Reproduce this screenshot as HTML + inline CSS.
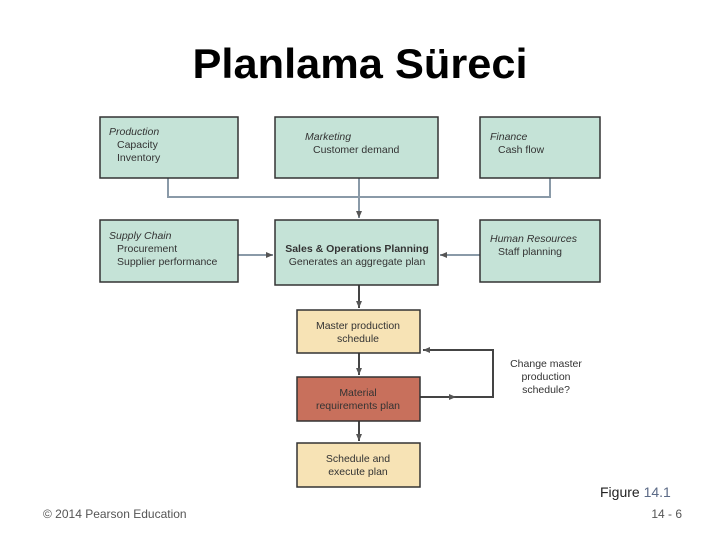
<!DOCTYPE html>
<html><head><meta charset="utf-8"><style>
html,body{margin:0;padding:0;background:#fff;}
svg{display:block;font-family:"Liberation Sans",Arial,sans-serif;}
</style></head><body>
<svg width="720" height="540" viewBox="0 0 720 540" xmlns="http://www.w3.org/2000/svg">
<defs>
<marker id="a" markerWidth="8" markerHeight="8" refX="7" refY="4" orient="auto" markerUnits="userSpaceOnUse">
<path d="M0,1 L7,4 L0,7 Z" fill="#555"/></marker>
</defs>
<text x="360" y="78" text-anchor="middle" font-size="42" font-weight="bold" textLength="335" lengthAdjust="spacingAndGlyphs">Planlama Süreci</text>

<g stroke="#8a9aa8" stroke-width="2" fill="none">
<polyline points="168,178 168,197 550,197 550,178"/>
<line x1="359" y1="178" x2="359" y2="218" marker-end="url(#a)"/>
<line x1="238" y1="255" x2="273" y2="255" marker-end="url(#a)"/>
<line x1="480" y1="255" x2="440" y2="255" marker-end="url(#a)"/>
</g>
<g stroke="#444" stroke-width="2" fill="none">
<line x1="359" y1="285" x2="359" y2="308" marker-end="url(#a)"/>
<line x1="359" y1="353" x2="359" y2="375" marker-end="url(#a)"/>
<line x1="359" y1="421" x2="359" y2="441" marker-end="url(#a)"/>
<polyline points="420,397 493,397 493,350 423,350" marker-end="url(#a)"/>
</g>
<line x1="420" y1="397" x2="456" y2="397" stroke="#444" stroke-width="2" marker-end="url(#a)"/>

<g stroke="#333" stroke-width="1.5">
<rect x="100" y="117" width="138" height="61" fill="#c5e3d7"/>
<rect x="275" y="117" width="163" height="61" fill="#c5e3d7"/>
<rect x="480" y="117" width="120" height="61" fill="#c5e3d7"/>
<rect x="100" y="220" width="138" height="62" fill="#c5e3d7"/>
<rect x="275" y="220" width="163" height="65" fill="#c5e3d7"/>
<rect x="480" y="220" width="120" height="62" fill="#c5e3d7"/>
<rect x="297" y="310" width="123" height="43" fill="#f7e3b5"/>
<rect x="297" y="377" width="123" height="44" fill="#c8705c"/>
<rect x="297" y="443" width="123" height="44" fill="#f7e3b5"/>
</g>

<g font-size="10.5" fill="#333">
<text x="109" y="135" font-style="italic">Production</text>
<text x="117" y="148">Capacity</text>
<text x="117" y="161">Inventory</text>
<text x="305" y="140" font-style="italic">Marketing</text>
<text x="313" y="153">Customer demand</text>
<text x="490" y="140" font-style="italic">Finance</text>
<text x="498" y="153">Cash flow</text>
<text x="109" y="239" font-style="italic">Supply Chain</text>
<text x="117" y="252">Procurement</text>
<text x="117" y="265">Supplier performance</text>
<text x="357" y="252" text-anchor="middle" font-weight="bold">Sales &amp; Operations Planning</text>
<text x="357" y="265" text-anchor="middle">Generates an aggregate plan</text>
<text x="490" y="242" font-style="italic">Human Resources</text>
<text x="498" y="255">Staff planning</text>
<text x="358" y="329" text-anchor="middle">Master production</text>
<text x="358" y="342" text-anchor="middle">schedule</text>
<text x="358" y="396" text-anchor="middle">Material</text>
<text x="358" y="409" text-anchor="middle">requirements plan</text>
<text x="358" y="462" text-anchor="middle">Schedule and</text>
<text x="358" y="475" text-anchor="middle">execute plan</text>
<text x="546" y="367" text-anchor="middle">Change master</text>
<text x="546" y="380" text-anchor="middle">production</text>
<text x="546" y="393" text-anchor="middle">schedule?</text>
</g>

<text x="600" y="497" font-size="14" fill="#222">Figure <tspan fill="#5b6a86">14.1</tspan></text>
<text x="43" y="518" font-size="12" fill="#555">© 2014 Pearson Education</text>
<text x="682" y="518" font-size="12" fill="#555" text-anchor="end">14 - 6</text>
</svg>
</body></html>
